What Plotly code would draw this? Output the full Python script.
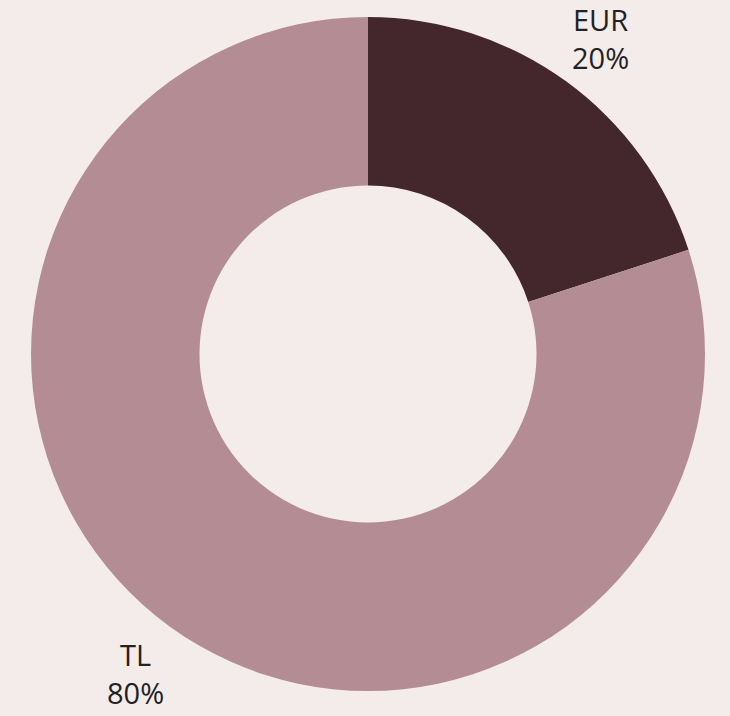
import plotly.graph_objects as go

labels = ["EUR", "TL"]
values = [20, 80]
colors = ["#43272C", "#B48C94"]
bg = "#F4ECEB"

W, H = 730, 716
total = sum(values)
pct = [f"{round(v / total * 100)}%" for v in values]

fig = go.Figure(go.Pie(
    labels=labels, values=values, hole=0.5, sort=False, direction="clockwise",
    rotation=0, marker=dict(colors=colors, line=dict(width=0)),
    textinfo="none", hoverinfo="label+percent", showlegend=False,
    domain=dict(x=[(368 - 337) / W, (368 + 337) / W], y=[1 - 691 / H, 1 - 17 / H]),
))

label_pos = [(600, 38), (135, 673)]
for lab, p, (px, py) in zip(labels, pct, label_pos):
    fig.add_annotation(x=px / W, y=1 - py / H, xref="paper", yref="paper",
                       text=f"{lab}<br>{p}", showarrow=False,
                       font=dict(family="Open Sans", size=29, color="#222222"),
                       xanchor="center", yanchor="middle")

fig.update_layout(width=W, height=H, margin=dict(l=0, r=0, t=0, b=0),
                  paper_bgcolor=bg, plot_bgcolor=bg)
fig.write_html("out.html", config={"displayModeBar": False}, post_script=(
    "document.body.style.margin='0';document.body.style.overflow='hidden';"
    "document.body.style.background='#F4ECEB';"))
